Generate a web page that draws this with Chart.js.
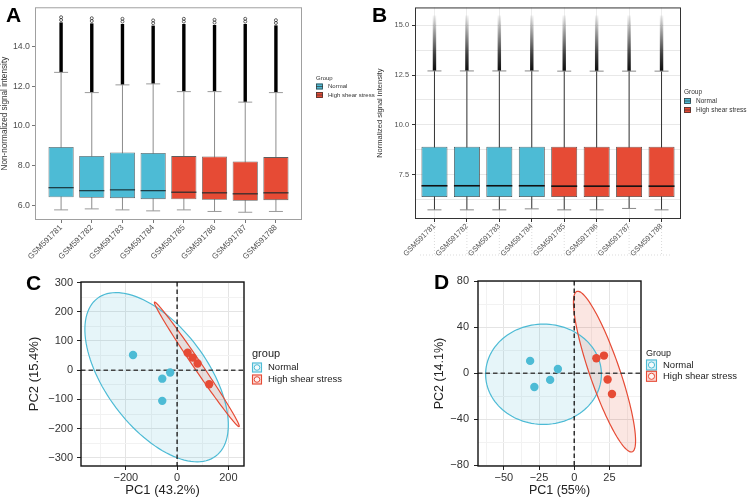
<!DOCTYPE html>
<html lang="en">

<head>
  <meta charset="UTF-8">
  <title>Signal intensity boxplots and PCA</title>
  <!-- Chart.js -->
  <script src="https://cdn.jsdelivr.net/npm/chart.js@4.4.1/dist/chart.umd.min.js"></script>
  <style>
    body {
      margin: 0;
      background: #fff;
      font-family: 'Liberation Sans', Arial, sans-serif;
    }

    .figure {
      position: relative;
      width: 750px;
      height: 499px;
      overflow: hidden;
    }

    .panel {
      position: absolute;
    }

    .tag {
      position: absolute;
      font: bold 21px 'Liberation Sans', Arial, sans-serif;
      line-height: 1;
      color: #000;
    }
  </style>
</head>

<body>
  <div class="figure">
    <canvas id="rawBox" class="panel" width="375" height="262" style="left:0;top:0"></canvas>
    <canvas id="normBox" class="panel" width="375" height="262" style="left:375px;top:0"></canvas>
    <canvas id="rawPca" class="panel" width="375" height="237" style="left:0;top:262px"></canvas>
    <canvas id="normPca" class="panel" width="375" height="237" style="left:375px;top:262px"></canvas>
    <div class="tag" style="left:6px;top:4px">A</div>
    <div class="tag" style="left:372px;top:4px">B</div>
    <div class="tag" style="left:26px;top:272px">C</div>
    <div class="tag" style="left:434px;top:271px">D</div>
  </div>

  <script>
    // ---- data ----
    const samples = ['GSM591781', 'GSM591782', 'GSM591783', 'GSM591784', 'GSM591785', 'GSM591786', 'GSM591787', 'GSM591788'];
    const sampleGroup = ['Normal', 'Normal', 'Normal', 'Normal', 'High shear stress', 'High shear stress', 'High shear stress', 'High shear stress'];
    const groups = ['Normal', 'High shear stress'];

    // A: non-normalized intensities (box stats)
    const rawLow = [5.77, 5.82, 5.77, 5.72, 5.77, 5.69, 5.65, 5.69];
    const rawQ1 = [6.41, 6.38, 6.36, 6.31, 6.30, 6.28, 6.23, 6.26];
    const rawMedian = [6.89, 6.74, 6.78, 6.74, 6.66, 6.63, 6.58, 6.63];
    const rawQ3 = [8.94, 8.49, 8.66, 8.64, 8.48, 8.46, 8.21, 8.43];
    const rawHigh = [12.70, 11.68, 12.07, 12.12, 11.73, 11.73, 11.20, 11.68];
    const rawOutlierMax = [15.57, 15.52, 15.49, 15.41, 15.49, 15.44, 15.49, 15.42];
    const rawTicks = [6, 8, 10, 12, 14];

    // B: normalized intensities
    const normLow = [5.73, 5.73, 5.73, 5.78, 5.73, 5.73, 5.80, 5.73];
    const normQ1 = [6.37, 6.37, 6.37, 6.37, 6.37, 6.37, 6.37, 6.37];
    const normMedian = [6.94, 6.94, 6.94, 6.94, 6.92, 6.92, 6.92, 6.92];
    const normQ3 = [8.90, 8.90, 8.90, 8.90, 8.90, 8.90, 8.90, 8.90];
    const normHigh = [12.71, 12.71, 12.71, 12.71, 12.70, 12.70, 12.70, 12.70];
    const normOutlierMax = [15.5, 15.5, 15.5, 15.5, 15.5, 15.5, 15.5, 15.5];
    const normTicks = [7.5, 10, 12.5, 15];
    const normMinorTicks = [6.25, 8.75, 11.25, 13.75];

    // C: PCA before normalization
    const pcaRawNormalX = [-172, -58, -27, -58];
    const pcaRawNormalY = [52, -29, -8, -105];
    const pcaRawHighX = [41, 61, 80, 125];
    const pcaRawHighY = [60, 43, 23, -48];
    // ellipses: centre x, centre y, half-axis vectors (ax, ay) and (bx, by)
    const pcaRawNormalEllipse = [-80, -24, 231, -270, 158, 105];
    const pcaRawHighEllipse = [77, 20, 165, -213, 13, 8];
    const pcaRawTicksX = [-200, 0, 200];
    const pcaRawMinorX = [-300, -100, 100];
    const pcaRawTicksY = [-300, -200, -100, 0, 100, 200, 300];
    const pcaRawMinorY = [-250, -150, -50, 50, 150, 250];

    // D: PCA after normalization
    const pcaNormNormalX = [-31.3, -28.3, -17.1, -11.6];
    const pcaNormNormalY = [10.7, -11.9, -5.8, 3.7];
    const pcaNormHighX = [15.7, 21.1, 23.7, 26.8];
    const pcaNormHighY = [13.0, 15.3, -5.5, -18.0];
    const pcaNormNormalEllipse = [-21.8, -0.9, 41.1, 0, 0, 43.5];
    const pcaNormHighEllipse = [21.5, 1.4, 19.6, -69.6, 10.1, 4.2];
    const pcaNormTicksX = [-50, -25, 0, 25];
    const pcaNormMinorX = [-62.5, -37.5, -12.5, 12.5, 37.5];
    const pcaNormTicksY = [-80, -40, 0, 40, 80];
    const pcaNormMinorY = [-60, -20, 20, 60];

    // ---- styling helpers ----
    const groupColors = { 'Normal': '#4DBBD5', 'High shear stress': '#E64B35' };
    const fontFamily = "'Liberation Sans', Arial, sans-serif";
    Chart.defaults.font.family = fontFamily;
    Chart.defaults.color = '#333';
    Chart.defaults.animation = false;
    Chart.defaults.plugins.legend.display = false;
    Chart.defaults.plugins.tooltip.enabled = false;

    function rgba(hex, a) {
      const n = parseInt(hex.slice(1), 16);
      return `rgba(${n >> 16},${(n >> 8) & 255},${n & 255},${a})`;
    }

    function line(ctx, x1, y1, x2, y2) {
      ctx.beginPath();
      ctx.moveTo(x1, y1);
      ctx.lineTo(x2, y2);
      ctx.stroke();
    }

    // major + minor ticks in one list; minor ones carry no label or tick mark
    function tickList(major, minor) {
      return major.map(v => ({ value: v }))
        .concat((minor || []).map(v => ({ value: v, minor: true })))
        .sort((a, b) => a.value - b.value);
    }

    function minus(v) {
      return v < 0 ? '\u2212' + Math.abs(v) : String(v);
    }

    // ---- boxplot panels (A, B) ----
    function boxExtras(stats, look) {
      return {
        id: 'boxExtras',
        beforeDatasetsDraw(chart) {
          const { ctx, scales: { x, y } } = chart;
          ctx.save();
          samples.forEach((s, i) => {
            const px = x.getPixelForValue(i + 1);
            const yLow = y.getPixelForValue(stats.low[i]);
            const yHigh = y.getPixelForValue(stats.high[i]);
            const yTop = y.getPixelForValue(stats.outMax[i]);
            // whisker
            ctx.strokeStyle = look.whisker;
            ctx.lineWidth = 1;
            line(ctx, px, yHigh, px, yLow);
            // outliers above the upper whisker
            if (look.fade) {
              const g = ctx.createLinearGradient(0, yHigh, 0, yTop);
              g.addColorStop(0, 'rgba(0,0,0,0.95)');
              g.addColorStop(0.3, 'rgba(0,0,0,0.75)');
              g.addColorStop(0.7, 'rgba(0,0,0,0.35)');
              g.addColorStop(1, 'rgba(0,0,0,0.04)');
              ctx.fillStyle = g;
              ctx.fillRect(px - 1.7, yTop, 3.4, yHigh - yTop);
            } else {
              ctx.fillStyle = '#000';
              ctx.fillRect(px - 1.7, yTop + 7, 3.4, yHigh - yTop - 7);
              ctx.strokeStyle = '#222';
              ctx.lineWidth = 0.7;
              [1.8, 4.6].forEach(dy => {
                ctx.beginPath();
                ctx.arc(px, yTop + dy, 1.5, 0, Math.PI * 2);
                ctx.stroke();
              });
            }
            // caps
            ctx.strokeStyle = look.cap;
            ctx.lineWidth = 1;
            line(ctx, px - 7, yHigh, px + 7, yHigh);
            line(ctx, px - 7, yLow, px + 7, yLow);
          });
          ctx.restore();
        },
        afterDatasetsDraw(chart) {
          const { ctx, chartArea: a, scales: { x, y } } = chart;
          ctx.save();
          // medians
          ctx.strokeStyle = look.median;
          ctx.lineWidth = look.medianWidth;
          chart.getDatasetMeta(0).data.forEach((bar, i) => {
            const py = y.getPixelForValue(stats.median[i]);
            line(ctx, bar.x - bar.width / 2, py, bar.x + bar.width / 2, py);
          });
          // panel frame
          ctx.strokeStyle = look.frame;
          ctx.lineWidth = 1;
          ctx.strokeRect(a.left + 0.5, a.top + 0.5, a.right - a.left - 1, a.bottom - a.top - 1);
          // faint dotted guides under the sample labels
          if (look.guides) {
            ctx.strokeStyle = 'rgba(150,150,150,0.6)';
            ctx.lineWidth = 0.6;
            ctx.setLineDash([1, 2]);
            samples.forEach((s, i) => {
              const px = x.getPixelForValue(i + 1);
              line(ctx, px, a.bottom + 4, px, look.guides);
            });
            line(ctx, a.left + 5, look.guides, a.right - 10, look.guides);
          }
          ctx.restore();
        },
        afterDraw(chart) {
          // legend: Group / Normal / High shear stress
          const { ctx } = chart;
          const L = look.legend;
          ctx.save();
          ctx.textBaseline = 'middle';
          ctx.fillStyle = '#333';
          ctx.font = `${L.size}px ${fontFamily}`;
          ctx.fillText('Group', L.x, L.y);
          groups.forEach((g, i) => {
            const yc = L.y + L.gap * (i + 1);
            ctx.fillStyle = groupColors[g];
            ctx.fillRect(L.x, yc - 3, 7, 6);
            ctx.strokeStyle = '#333';
            ctx.lineWidth = 0.7;
            ctx.strokeRect(L.x + 0.5, yc - 2.5, 6, 5);
            line(ctx, L.x, yc, L.x + 7, yc);
            ctx.fillStyle = '#333';
            ctx.fillText(g, L.x + 12, yc);
          });
          ctx.restore();
        }
      };
    }

    function boxChart(id, stats, yRange, yMajor, yMinor, xRange, look) {
      new Chart(document.getElementById(id), {
        type: 'bar',
        data: {
          datasets: [{
            data: samples.map((s, i) => ({ x: i + 1, y: [stats.q1[i], stats.q3[i]] })),
            backgroundColor: sampleGroup.map(g => groupColors[g]),
            borderColor: look.boxBorder,
            borderWidth: 0.8,
            borderSkipped: false,
            categoryPercentage: 1,
            barPercentage: look.barPct
          }]
        },
        options: {
          responsive: false,
          layout: { padding: look.padding },
          scales: {
            x: {
              type: 'linear',
              min: xRange[0],
              max: xRange[1],
              offset: false,
              afterBuildTicks: s => { s.ticks = samples.map((n, i) => ({ value: i + 1 })); },
              afterFit: s => { s.height = look.xHeight; },
              ticks: {
                callback: v => samples[v - 1],
                autoSkip: false,
                minRotation: 45,
                maxRotation: 45,
                padding: 0,
                color: '#555',
                font: { size: look.xFont }
              },
              grid: {
                offset: false,
                drawOnChartArea: look.grid,
                color: '#ececec',
                tickLength: 3,
                tickColor: look.tickColor
              },
              border: { display: false }
            },
            y: {
              min: yRange[0],
              max: yRange[1],
              beginAtZero: false,
              afterBuildTicks: s => { s.ticks = tickList(yMajor, yMinor); },
              afterFit: s => { s.width = look.yWidth; },
              ticks: {
                callback: (v, i, t) => t[i].minor ? '' : v.toFixed(1),
                autoSkip: false,
                padding: look.yPad,
                color: '#4d4d4d',
                font: { size: look.yFont }
              },
              grid: {
                drawOnChartArea: look.grid,
                color: '#e8e8e8',
                tickLength: 3,
                tickColor: c => (c.tick && c.tick.minor) ? 'rgba(0,0,0,0)' : look.tickColor
              },
              border: { display: false },
              title: {
                display: true,
                text: look.yTitle,
                color: '#333',
                padding: { top: 0, bottom: 0 },
                font: { size: look.titleFont }
              }
            }
          }
        },
        plugins: [boxExtras(stats, look)]
      });
    }

    boxChart('rawBox',
      { low: rawLow, q1: rawQ1, median: rawMedian, q3: rawQ3, high: rawHigh, outMax: rawOutlierMax },
      [5.26, 15.98], rawTicks, [], [0.15, 8.85],
      {
        padding: { left: 0, right: 73, top: 3, bottom: 0 }, yWidth: 35, xHeight: 42,
        barPct: 0.82, boxBorder: '#5f5f5f', whisker: '#8c8c8c', cap: '#9a9a9a',
        median: 'rgba(20,40,45,0.85)', medianWidth: 1.3, frame: '#a0a0a0', fade: false,
        grid: false, tickColor: '#777', xFont: 8, yFont: 8.8, yPad: 2, titleFont: 8.2,
        yTitle: 'Non-normalized signal intensity', guides: 0,
        legend: { x: 316, y: 78, gap: 8.5, size: 6 }
      });

    boxChart('normBox',
      { low: normLow, q1: normQ1, median: normMedian, q3: normQ3, high: normHigh, outMax: normOutlierMax },
      [5.27, 15.9], normTicks, normMinorTicks, [0.4, 8.6],
      {
        padding: { left: 0, right: 69, top: 3, bottom: 0 }, yWidth: 40, xHeight: 43,
        barPct: 0.8, boxBorder: '#3a3a3a', whisker: '#333', cap: '#888',
        median: '#111', medianWidth: 1.6, frame: '#333', fade: true,
        grid: true, tickColor: '#333', xFont: 7.5, yFont: 7.4, yPad: 3, titleFont: 7.5,
        yTitle: 'Normalized signal intensity', guides: 255,
        legend: { x: 309, y: 92, gap: 9, size: 6.5 }
      });

    // ---- PCA panels (C, D) ----
    function ellipsePath(ctx, x, y, e) {
      ctx.beginPath();
      for (let k = 0; k <= 120; k++) {
        const t = k / 120 * Math.PI * 2;
        const vx = e[0] + e[2] * Math.cos(t) + e[4] * Math.sin(t);
        const vy = e[1] + e[3] * Math.cos(t) + e[5] * Math.sin(t);
        const px = x.getPixelForValue(vx), py = y.getPixelForValue(vy);
        if (k === 0) ctx.moveTo(px, py); else ctx.lineTo(px, py);
      }
      ctx.closePath();
    }

    function pcaExtras(ellipses, look) {
      return {
        id: 'pcaExtras',
        beforeDatasetsDraw(chart) {
          const { ctx, chartArea: a, scales: { x, y } } = chart;
          ctx.save();
          ctx.beginPath();
          ctx.rect(a.left, a.top, a.right - a.left, a.bottom - a.top);
          ctx.clip();
          // confidence ellipses
          groups.forEach((g, i) => {
            ellipsePath(ctx, x, y, ellipses[i]);
            ctx.fillStyle = rgba(groupColors[g], 0.14);
            ctx.fill();
          });
          groups.forEach((g, i) => {
            ellipsePath(ctx, x, y, ellipses[i]);
            ctx.strokeStyle = groupColors[g];
            ctx.lineWidth = 1.2;
            ctx.stroke();
          });
          // dashed zero lines
          ctx.setLineDash([4.5, 3]);
          ctx.lineWidth = 1.4;
          ctx.strokeStyle = '#222';
          const x0 = x.getPixelForValue(0), y0 = y.getPixelForValue(0);
          line(ctx, x0, a.top, x0, a.bottom);
          ctx.strokeStyle = '#444';
          line(ctx, a.left, y0, a.right, y0);
          ctx.restore();
        },
        afterDatasetsDraw(chart) {
          const { ctx, chartArea: a } = chart;
          ctx.save();
          ctx.strokeStyle = '#111';
          ctx.lineWidth = 1.4;
          ctx.strokeRect(a.left, a.top, a.right - a.left, a.bottom - a.top);
          ctx.restore();
        },
        afterDraw(chart) {
          const { ctx } = chart;
          const L = look.legend;
          ctx.save();
          ctx.textBaseline = 'middle';
          ctx.fillStyle = '#222';
          ctx.font = `${L.titleSize}px ${fontFamily}`;
          ctx.fillText(L.title, L.x, L.y);
          ctx.font = `${L.size}px ${fontFamily}`;
          groups.forEach((g, i) => {
            const yc = L.y + L.first + L.gap * i;
            const c = groupColors[g];
            ctx.fillStyle = rgba(c, 0.22);
            ctx.fillRect(L.x, yc - L.box / 2, L.box, L.box);
            ctx.strokeStyle = c;
            ctx.lineWidth = 1.1;
            ctx.strokeRect(L.x + 0.5, yc - L.box / 2 + 0.5, L.box - 1, L.box - 1);
            ctx.beginPath();
            ctx.arc(L.x + L.box / 2, yc, L.box * 0.28, 0, Math.PI * 2);
            ctx.fillStyle = 'rgba(255,255,255,0.75)';
            ctx.fill();
            ctx.strokeStyle = c;
            ctx.lineWidth = 1;
            ctx.stroke();
            ctx.fillStyle = '#222';
            ctx.fillText(g, L.x + L.box + 6, yc);
          });
          ctx.restore();
        }
      };
    }

    function pcaChart(id, pts, ellipses, axes, look) {
      const grid = {
        color: c => (c.tick && c.tick.minor) ? '#f2f2f2' : '#e4e4e4',
        lineWidth: 1,
        tickLength: 4,
        tickColor: c => (c.tick && c.tick.minor) ? 'rgba(0,0,0,0)' : '#222'
      };
      new Chart(document.getElementById(id), {
        type: 'scatter',
        data: {
          datasets: groups.map((g, i) => ({
            label: g,
            data: pts[i][0].map((v, k) => ({ x: v, y: pts[i][1][k] })),
            backgroundColor: groupColors[g],
            borderWidth: 0,
            pointRadius: 4.2
          }))
        },
        options: {
          responsive: false,
          layout: { padding: look.padding },
          scales: {
            x: {
              min: axes.x[0],
              max: axes.x[1],
              afterBuildTicks: s => { s.ticks = tickList(axes.xTicks, axes.xMinor); },
              afterFit: s => { s.height = look.xHeight; },
              ticks: {
                callback: (v, i, t) => t[i].minor ? '' : minus(v),
                autoSkip: false,
                maxRotation: 0,
                padding: 1.5,
                color: '#333',
                font: { size: 11 }
              },
              grid: grid,
              border: { display: false },
              title: {
                display: true,
                text: look.xTitle,
                color: '#222',
                padding: { top: 0, bottom: look.xTitlePad },
                font: { size: look.titleFont }
              }
            },
            y: {
              min: axes.y[0],
              max: axes.y[1],
              afterBuildTicks: s => { s.ticks = tickList(axes.yTicks, axes.yMinor); },
              afterFit: s => { s.width = look.yWidth; },
              ticks: {
                callback: (v, i, t) => t[i].minor ? '' : minus(v),
                autoSkip: false,
                padding: look.yPad,
                color: '#333',
                font: { size: 11 }
              },
              grid: grid,
              border: { display: false },
              title: {
                display: true,
                text: look.yTitle,
                color: '#222',
                padding: { top: look.yTitlePad, bottom: 0 },
                font: { size: look.titleFont }
              }
            }
          }
        },
        plugins: [pcaExtras(ellipses, look)]
      });
    }

    pcaChart('rawPca',
      [[pcaRawNormalX, pcaRawNormalY], [pcaRawHighX, pcaRawHighY]],
      [pcaRawNormalEllipse, pcaRawHighEllipse],
      { x: [-375, 261], y: [-328, 302], xTicks: pcaRawTicksX, xMinor: pcaRawMinorX, yTicks: pcaRawTicksY, yMinor: pcaRawMinorY },
      {
        padding: { left: 0, right: 131, top: 20, bottom: 0 }, yWidth: 81, xHeight: 33, yPad: 4,
        titleFont: 13, xTitle: 'PC1 (43.2%)', yTitle: 'PC2 (15.4%)', xTitlePad: 0.5, yTitlePad: 27,
        legend: { x: 252, y: 92.3, first: 13.2, gap: 12, box: 10, titleSize: 11, size: 9.5, title: 'group' }
      });

    pcaChart('normPca',
      [[pcaNormNormalX, pcaNormNormalY], [pcaNormHighX, pcaNormHighY]],
      [pcaNormNormalEllipse, pcaNormHighEllipse],
      { x: [-68.3, 47.4], y: [-80.5, 80], xTicks: pcaNormTicksX, xMinor: pcaNormMinorX, yTicks: pcaNormTicksY, yMinor: pcaNormMinorY },
      {
        padding: { left: 0, right: 109, top: 19, bottom: 0 }, yWidth: 103, xHeight: 33, yPad: 5,
        titleFont: 12.5, xTitle: 'PC1 (55%)', yTitle: 'PC2 (14.1%)', xTitlePad: 1, yTitlePad: 57.5,
        legend: { x: 271, y: 91.3, first: 11.7, gap: 11.3, box: 11, titleSize: 9, size: 9.5, title: 'Group' }
      });
  </script>
</body>

</html>
